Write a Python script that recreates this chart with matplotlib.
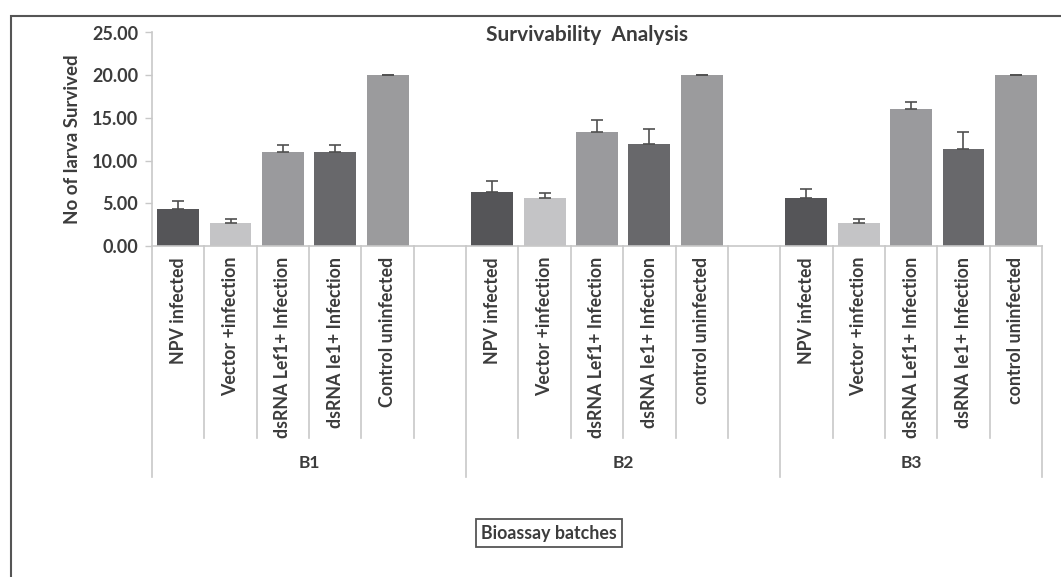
#!/usr/bin/env python3
"""Survivability analysis bar chart (Excel-style multi-level category axis)."""

import matplotlib
matplotlib.use('Agg')
import matplotlib.pyplot as plt
from matplotlib.patches import Rectangle
import numpy as np

# Data (mean larvae survived, upper error)
batches = ["B1", "B2", "B3"]
treatments_b1 = ["NPV infected", "Vector +infection", "dsRNA Lef1+ Infection",
                 "dsRNA Ie1+ Infection", "Control uninfected"]
treatments_b23 = ["NPV infected", "Vector +infection", "dsRNA Lef1+ Infection",
                  "dsRNA Ie1+ Infection", "control uninfected"]
b1_values = [4.3, 2.7, 11.0, 11.0, 20.0]
b2_values = [6.3, 5.67, 13.3, 12.0, 20.0]
b3_values = [5.67, 2.7, 16.0, 11.3, 20.0]
b1_err = [0.95, 0.45, 0.85, 0.85, 0.05]
b2_err = [1.35, 0.55, 1.4, 1.7, 0.05]
b3_err = [0.97, 0.45, 0.9, 2.0, 0.05]
y_ticks = [0, 5, 10, 15, 20, 25]

# Colors per treatment (same order in every batch)
BAR_COLORS = ["#555558", "#c4c4c6", "#9a9a9d", "#68686b", "#9b9b9d"]
TEXT = "#3c3c3c"
GRID = "#c8c8c8"

plt.rcParams['font.family'] = ['Lato', 'DejaVu Sans']

W, H = 1061, 577
fig = plt.figure(figsize=(W / 100, H / 100), dpi=100)

# axes placed in pixel terms of the reference
x0, x1, y_top, y_bot = 152, 1042, 32.5, 246
ax = fig.add_axes([x0 / W, 1 - y_bot / H, (x1 - x0) / W, (y_bot - y_top) / H])
ax_h = y_bot - y_top

labels = treatments_b1 + [""] + treatments_b23 + [""] + treatments_b23
values = b1_values + b2_values + b3_values
errs = b1_err + b2_err + b3_err
positions = [0, 1, 2, 3, 4, 6, 7, 8, 9, 10, 12, 13, 14, 15, 16]
colors = BAR_COLORS * 3

ax.bar(positions, values, width=0.8, color=colors, zorder=2)
ax.errorbar(positions, values, yerr=[np.zeros(len(errs)), errs], fmt="none",
            ecolor="#505050", elinewidth=1.2, capsize=4, capthick=1.2, zorder=3)

ax.set_xlim(-0.5, 16.5)
ax.set_ylim(0, 25)
ax.set_yticks(y_ticks)
ax.set_yticklabels([f"{v:.2f}" for v in y_ticks], fontsize=13,
                   fontweight="bold", color=TEXT)
ax.tick_params(axis="y", length=5, width=1, color=GRID, pad=5)
ax.set_xticks([])
for s in ["top", "right"]:
    ax.spines[s].set_visible(False)
for s in ["left", "bottom"]:
    ax.spines[s].set_color(GRID)
    ax.spines[s].set_linewidth(1.2)

ax.set_ylabel("No of larva Survived", fontsize=13.5, fontweight="bold",
              color=TEXT, labelpad=8)

# multi-level category axis
trans = ax.get_xaxis_transform()
short = -(438 - y_bot) / ax_h
long_ = -(477 - y_bot) / ax_h
for b in range(18):
    xb = b - 0.5
    depth = long_ if b in (0, 6, 12, 17) else short
    ax.plot([xb, xb], [0, depth], transform=trans, color=GRID, lw=1.2,
            clip_on=False, zorder=1)

for i, lab in enumerate(labels):
    if lab:
        ax.text(i, -11 / ax_h, lab, transform=trans, rotation=90, ha="center",
                va="top", fontsize=12.8, fontweight="bold", color=TEXT)

group_centers = [2.5, 8.5, 14]
for name, xc in zip(batches, group_centers):
    ax.text(xc, -(463 - y_bot) / ax_h, name, transform=trans, ha="center",
            va="center", fontsize=12.5, fontweight="bold", color=TEXT)

fig.text(587 / W, 1 - 35 / H, "Survivability  Analysis", ha="center",
         va="center", fontsize=15, fontweight="bold", color=TEXT)

fig.text(549 / W, 1 - 533 / H, "Bioassay batches", ha="center", va="center",
         fontsize=12.8, fontweight="bold", color=TEXT,
         bbox=dict(boxstyle="square,pad=0.3", fc="white", ec="#555555", lw=1.3))

# outer chart frame (runs off the right and bottom of the image)
fig.add_artist(Rectangle((11 / W, -0.1), 1.2, 1 - 16 / H + 0.1,
                         transform=fig.transFigure, fill=False,
                         ec="#555555", lw=1.5))

plt.savefig("out.png", dpi=100)
print("Saved: out.png")
